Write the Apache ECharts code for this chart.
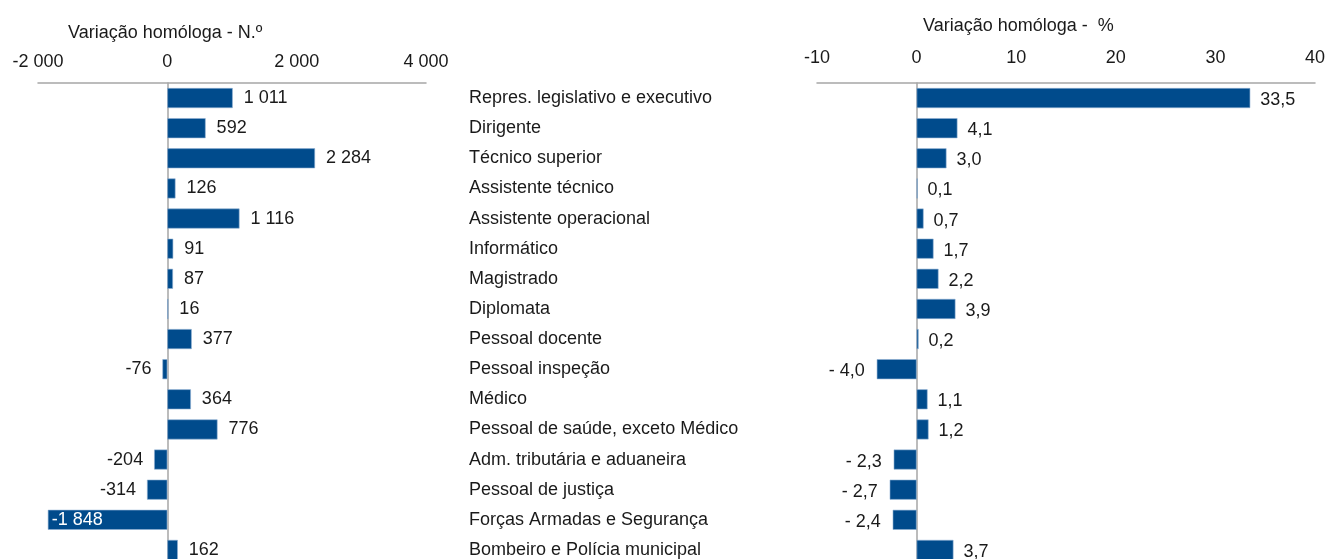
<!DOCTYPE html>
<html>
<head>
<meta charset="utf-8">
<script src="https://cdn.jsdelivr.net/npm/echarts@6/dist/echarts.min.js"></script>
<style>
html,body{margin:0;padding:0;background:#fff}
#main{width:1339px;height:559px}
</style>
</head>
<body>
<div id="main"></div>
<script>
// dados
var categorias = ['Repres. legislativo e executivo','Dirigente','Técnico superior','Assistente técnico',
	'Assistente operacional','Informático','Magistrado','Diplomata','Pessoal docente','Pessoal inspeção',
	'Médico','Pessoal de saúde, exceto Médico','Adm. tributária e aduaneira','Pessoal de justiça',
	'Forças Armadas e Segurança','Bombeiro e Polícia municipal'];
var varNumero = [1011, 592, 2284, 126, 1116, 91, 87, 16, 377, -76, 364, 776, -204, -314, -1848, 162];
var varPercent = [33.5, 4.1, 3.0, 0.1, 0.7, 1.7, 2.2, 3.9, 0.2, -4.0, 1.1, 1.2, -2.3, -2.7, -2.4, 3.7];
var ticksNumero = [-2000, 0, 2000, 4000];
var ticksPercent = [-10, 0, 10, 20, 30, 40];

var fonte = "'Liberation Sans', Arial, sans-serif";
var azul = '#004b8c';
var cinza = '#a6a6a6';

function fmtNum(v){
	var s = Math.abs(v).toString().replace(/\B(?=(\d{3})+(?!\d))/g, ' ');
	return (v < 0 ? '-' : '') + s;
}
function fmtPct(v){
	var s = Math.abs(v).toFixed(1).replace('.', ',');
	return (v < 0 ? '- ' : '') + s;
}

// cada barra com a sua etiqueta (negativos à esquerda)
var dadosNumero = varNumero.map(function(v){
	if (v < -1500) return {value: v, label: {position: 'insideLeft', color: '#fff', distance: 4}};
	if (v < 0) return {value: v, label: {position: 'left'}};
	return v;
});
var dadosPercent = varPercent.map(function(v){
	if (v < 0) return {value: v, label: {position: 'left', distance: 12}};
	return v;
});

var myChart = echarts.init(document.getElementById('main'));
var option = {
	backgroundColor: '#fff',
	animation: false,
	textStyle: {fontFamily: fonte},
	title: [
		{text: 'Variação homóloga - N.º', left: 68, top: 24, padding: 0,
			textStyle: {fontSize: 18, fontWeight: 'normal', color: '#1a1a1a', fontFamily: fonte}},
		{text: 'Variação homóloga -  %', left: 923, top: 17, padding: 0,
			textStyle: {fontSize: 18, fontWeight: 'normal', color: '#1a1a1a', fontFamily: fonte}}
	],
	grid: [
		{left: 38, right: 913, top: 83, height: 482, outerBoundsMode: 'none', containLabel: false},
		{left: 817, right: 24, top: 83, height: 482, outerBoundsMode: 'none', containLabel: false}
	],
	xAxis: [
		{gridIndex: 0, type: 'value', position: 'top', min: ticksNumero[0], max: ticksNumero[ticksNumero.length - 1],
			interval: 2000,
			axisLine: {show: true, lineStyle: {color: cinza, width: 1.5}},
			axisTick: {show: false}, splitLine: {show: false},
			axisLabel: {margin: 12, fontSize: 18, color: '#1a1a1a', fontFamily: fonte, formatter: fmtNum}},
		{gridIndex: 1, type: 'value', position: 'top', min: ticksPercent[0], max: ticksPercent[ticksPercent.length - 1],
			interval: 10,
			axisLine: {show: true, lineStyle: {color: cinza, width: 1.5}},
			axisTick: {show: false}, splitLine: {show: false},
			axisLabel: {margin: 16, fontSize: 18, color: '#1a1a1a', fontFamily: fonte}}
	],
	yAxis: [
		{gridIndex: 0, type: 'category', inverse: true, data: categorias,
			axisLine: {show: true, onZero: true, lineStyle: {color: cinza, width: 1.5}},
			axisTick: {show: false}, axisLabel: {show: false}},
		{gridIndex: 1, type: 'category', inverse: true, data: categorias,
			axisLine: {show: true, onZero: true, lineStyle: {color: cinza, width: 1.5}},
			axisTick: {show: false},
			axisLabel: {show: true, align: 'left', margin: 348, fontSize: 18, color: '#1a1a1a', fontFamily: fonte}}
	],
	series: [
		{name: 'N.º', type: 'bar', xAxisIndex: 0, yAxisIndex: 0, data: dadosNumero, barWidth: 20,
			itemStyle: {color: azul, borderColor: '#8fb0d3', borderWidth: 0.6},
			label: {show: true, position: 'right', distance: 11, fontSize: 18, color: '#1a1a1a', fontFamily: fonte,
				formatter: function(p){ return fmtNum(p.value); }}},
		{name: '%', type: 'bar', xAxisIndex: 1, yAxisIndex: 1, data: dadosPercent, barWidth: 20,
			itemStyle: {color: azul, borderColor: '#8fb0d3', borderWidth: 0.6},
			label: {show: true, position: 'right', distance: 10, offset: [0, 2], fontSize: 18, color: '#1a1a1a', fontFamily: fonte,
				formatter: function(p){ return fmtPct(p.value); }}}
	]
};
myChart.setOption(option);
</script>
</body>
</html>
